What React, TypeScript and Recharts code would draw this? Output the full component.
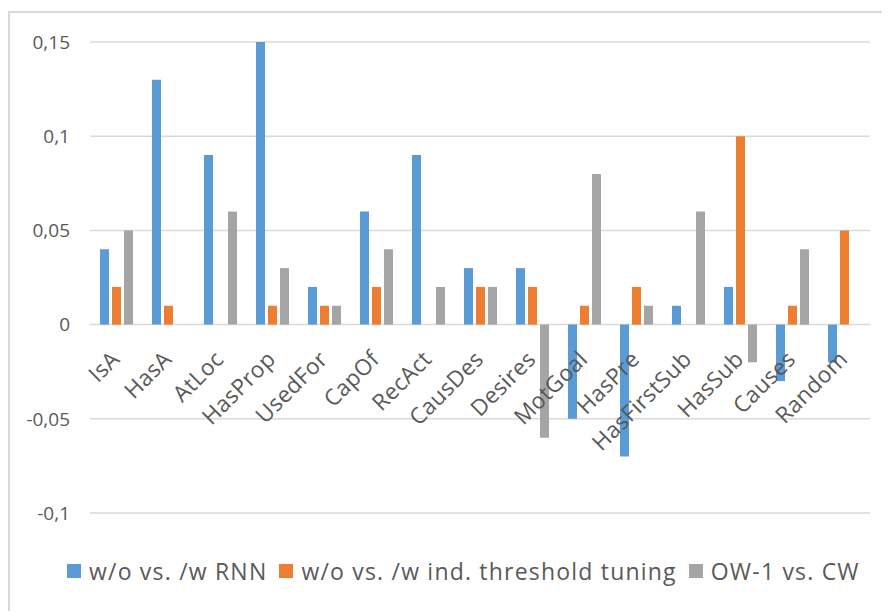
import React from 'react';
import { BarChart, Bar, XAxis, YAxis, CartesianGrid } from 'recharts';

// relation types on the x axis
const CATEGORIES = ['IsA', 'HasA', 'AtLoc', 'HasProp', 'UsedFor', 'CapOf', 'RecAct', 'CausDes', 'Desires', 'MotGoal', 'HasPre', 'HasFirstSub', 'HasSub', 'Causes', 'Random'];

const RNN = [0.04, 0.13, 0.09, 0.15, 0.02, 0.06, 0.09, 0.03, 0.03, -0.05, -0.07, 0.01, 0.02, -0.03, -0.02];
const THRESHOLD = [0.02, 0.01, 0, 0.01, 0.01, 0.02, 0, 0.02, 0.02, 0.01, 0.02, 0, 0.1, 0.01, 0.05];
const OW_CW = [0.05, 0, 0.06, 0.03, 0.01, 0.04, 0.02, 0.02, -0.06, 0.08, 0.01, 0.06, -0.02, 0.04, 0];

const Y_TICKS = [-0.1, -0.05, 0, 0.05, 0.1, 0.15];

const SERIES = [
  { key: 'rnn', name: 'w/o vs. /w RNN', color: '#5B9BD5' },
  { key: 'thr', name: 'w/o vs. /w ind. threshold tuning', color: '#ED7D31' },
  { key: 'ow', name: 'OW-1 vs. CW', color: '#A5A5A5' },
];

const data = CATEGORIES.map((c, i) => ({ name: c, rnn: RNN[i], thr: THRESHOLD[i], ow: OW_CW[i] }));

const W = 882;
const H = 600;
const X_H = 1;
const M = { top: 31, right: 20, left: 0, bottom: 97 };
const Y_W = 82;
const PLOT_H = H - M.top - M.bottom - X_H;
const Y_MIN = Y_TICKS[0];
const Y_MAX = Y_TICKS[Y_TICKS.length - 1];
// distance from plot bottom up to the zero line
const ZERO_UP = ((0 - Y_MIN) / (Y_MAX - Y_MIN)) * PLOT_H;
const TEXT = '#595959';
const FONT = '"Open Sans", Lato, sans-serif';

const fmt = (v: number) => String(v).replace('.', ',');

function CatTick(props: any) {
  const { x, payload } = props;
  const bottom = M.top + PLOT_H;
  const ax = x + 5;
  const ay = bottom - ZERO_UP + 36;
  return (
    <text x={ax} y={ay} transform={`rotate(-45, ${ax}, ${ay})`} textAnchor="end" fill={TEXT} fontSize={22.5} fontFamily={FONT} letterSpacing={0.4}>
      {payload.value}
    </text>
  );
}

export default function App() {
  return (
    <div style={{ position: 'relative', width: W, height: H, marginTop: 3, fontFamily: FONT }}>
      <div style={{ position: 'absolute', left: 0, top: 0, width: W + 10, height: H + 10, borderTop: '2px solid #d9d9d9', borderLeft: '2px solid #d9d9d9', pointerEvents: 'none' }} />
      <BarChart width={W} height={H} data={data} margin={M} barSize={9} barGap={3}>
        <CartesianGrid vertical={false} stroke="#d9d9d9" strokeWidth={1.5} />
        <XAxis dataKey="name" height={X_H} axisLine={false} tickLine={false} tick={<CatTick />} interval={0} />
        <YAxis
          width={Y_W}
          domain={[Y_MIN, Y_MAX]}
          ticks={Y_TICKS}
          tickFormatter={fmt}
          axisLine={false}
          tickLine={false}
          tickMargin={14}
          tick={{ fill: TEXT, fontSize: 19, fontFamily: FONT }}
        />
        {SERIES.map(s => (
          <Bar key={s.key} dataKey={s.key} name={s.name} fill={s.color} isAnimationActive={false} />
        ))}
      </BarChart>
      <div style={{ position: 'absolute', left: 59, top: 544, display: 'flex', alignItems: 'center', fontSize: 23, letterSpacing: 1.2, color: TEXT, whiteSpace: 'nowrap' }}>
        {SERIES.map(s => (
          <div key={s.key} style={{ display: 'flex', alignItems: 'center', marginRight: 12 }}>
            <span style={{ display: 'inline-block', width: 14, height: 14, background: s.color, marginRight: 8 }} />
            <span>{s.name}</span>
          </div>
        ))}
      </div>
    </div>
  );
}
